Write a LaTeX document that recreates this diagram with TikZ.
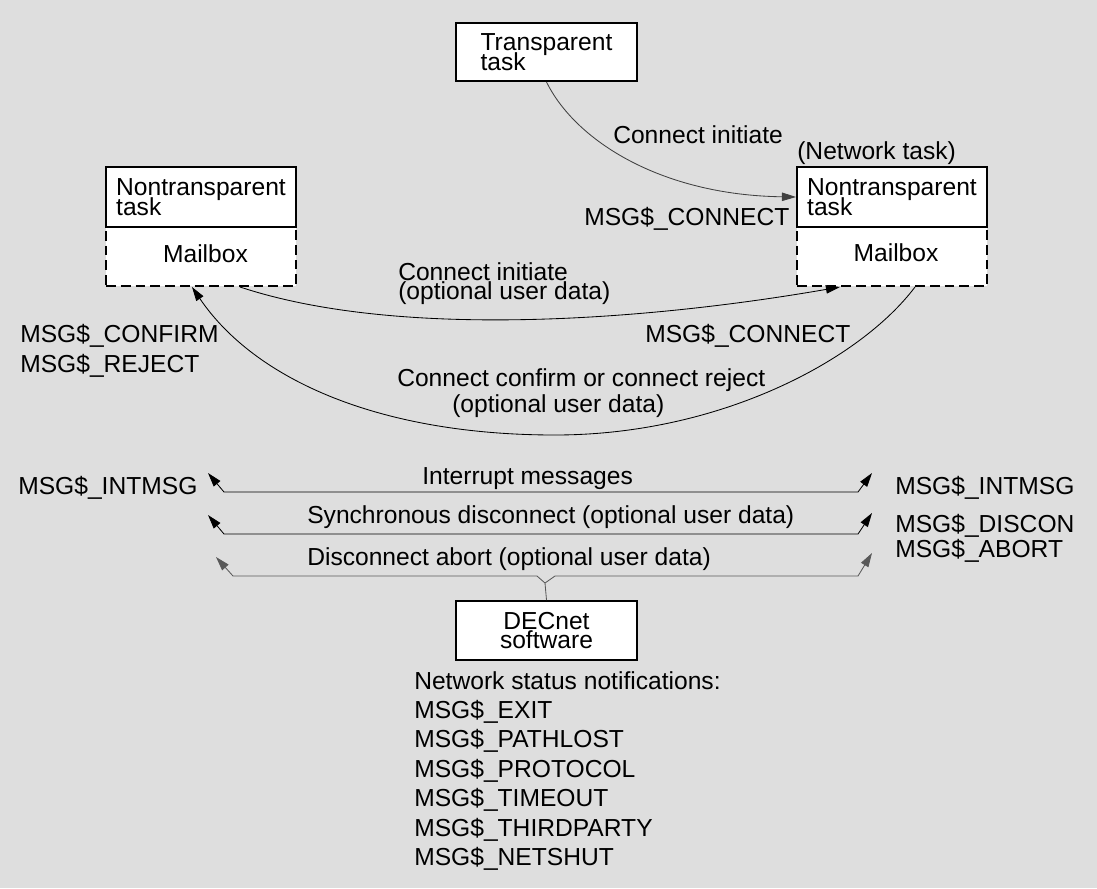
\documentclass[tikz,border=0pt]{standalone}
\usepackage{fontspec}
\setmainfont{Liberation Sans}
\usetikzlibrary{arrows.meta}
\usetikzlibrary{positioning}
\definecolor{panelgray}{RGB}{222,222,222}
\newcommand\diagfont{\fontsize{17.5pt}{14pt}\selectfont\lineskiplimit=-20pt\relax}

\begin{document}
\begin{tikzpicture}[x=0.025cm,y=-0.025cm,
  every node/.style={font=\diagfont,inner sep=0pt},
  taskbox/.style={draw,fill=white,line width=1.4pt},
  mailbox/.style={draw,fill=white,line width=1.4pt,dash pattern=on 7pt off 3.5pt},
  lbl/.style={anchor=base west},
  msg/.style={-{Triangle[length=10pt,width=6pt]},line width=0.6pt},
  twomsg/.style={{Triangle[length=10pt,width=6pt]}-{Triangle[length=10pt,width=6pt]},line width=0.6pt}]
  \useasboundingbox[fill=panelgray] (0,0) rectangle (1097,888);
  % tasks
  \node[taskbox,align=left,minimum width=4.525cm,minimum height=1.45cm] (tt) at (546.5,52) {Transparent\\task};
  \node[mailbox,minimum width=4.75cm,minimum height=1.475cm] (mbl) at (201,256.5) {};
  \node[taskbox,align=left,minimum width=4.75cm,minimum height=1.5cm] (ntl) at (201,197) {Nontransparent\\task};
  \node[anchor=base] (mbltxt) at (205.5,262) {Mailbox};
  \node[mailbox,minimum width=4.75cm,minimum height=1.475cm] (mbr) at (892,256.5) {};
  \node[taskbox,align=left,minimum width=4.75cm,minimum height=1.5cm] (ntr) at (892,197) {Nontransparent\\task};
  \node[anchor=base] (mbrtxt) at (896,261) {Mailbox};
  \node[lbl] (nettask) at (797,159) {(Network task)};
  \node[taskbox,align=center,minimum width=4.525cm,minimum height=1.475cm] (dec) at (546.5,630.5) {DECnet\\software};
  % labels
  \node[lbl] (conninit) at (613,143) {Connect initiate};
  \node[lbl] (msgconA) at (584,225) {MSG\$\_CONNECT};
  \node[anchor=north west,align=left] (conninitB) at (398,262) {Connect initiate\\(optional user data)};
  \node[lbl] (msgconB) at (645,342) {MSG\$\_CONNECT};
  \node[anchor=north west,align=left,font=\fontsize{17.5pt}{21.2pt}\selectfont] (confrej) at (20,324) {MSG\$\_CONFIRM\\MSG\$\_REJECT};
  \node[lbl] (conncfm) at (397,386) {Connect confirm or connect reject};
  \node[lbl] (cfmdata) at (452,412) {(optional user data)};
  \node[lbl] (intL) at (18,494) {MSG\$\_INTMSG};
  \node[lbl] (intR) at (895,494) {MSG\$\_INTMSG};
  \node[anchor=north west,align=left,font=\fontsize{17.5pt}{17.5pt}\selectfont] (disabt) at (895,514) {MSG\$\_DISCON\\MSG\$\_ABORT};
  \node[lbl] (intmsg) at (422,484) {Interrupt messages};
  \node[lbl] (syncdis) at (307,523) {Synchronous disconnect (optional user data)};
  \node[lbl] (abort) at (307,565) {Disconnect abort (optional user data)};
  \node[anchor=north west,align=left,font=\fontsize{17.5pt}{20.9pt}\selectfont] (status) at (414,671)
    {Network status notifications:\\MSG\$\_EXIT\\MSG\$\_PATHLOST\\MSG\$\_PROTOCOL\\MSG\$\_TIMEOUT\\MSG\$\_THIRDPARTY\\MSG\$\_NETSHUT};
  % end points
  \coordinate (mblA) at ([xshift=0.975cm]mbl.south);
  \coordinate (mblB) at ([xshift=-0.225cm]mbl.south);
  \coordinate (mbrA) at ([xshift=-1.3cm]mbr.south);
  \coordinate (mbrB) at ([xshift=0.575cm]mbr.south);
  \coordinate (tipIL) at (208,473);
  \coordinate (tipIR) at (872,473);
  \coordinate (tipSL) at (208,515);
  \coordinate (tipSR) at (872,513);
  \coordinate (tipAL) at (216,557);
  \coordinate (tipAR) at (872,553);
  \coordinate (jn) at (545,583);
  % connectors
  \draw[msg,black!75] (tt.south) .. controls (575,140) and (660,195) .. (ntr.west);
  \draw[msg] (mblA) .. controls (400,340) and (650,320) .. (mbrA);
  \draw[msg] (mbrB) .. controls (860,360) and (720,435) .. (555,435) .. controls (380,435) and (255,380) .. (mblB);
  \draw[twomsg] (tipIL) -- (224,492) -- (858,492) -- (tipIR);
  \draw[twomsg] (tipSL) -- (224,534) -- (858,534) -- (tipSR);
  \draw[msg,black!65] (dec.north) -- (jn) -- (537,576) -- (233,576) -- (tipAL);
  \draw[msg,black!65] (jn) -- (555,576) -- (858,576) -- (tipAR);
\end{tikzpicture}
\end{document}
